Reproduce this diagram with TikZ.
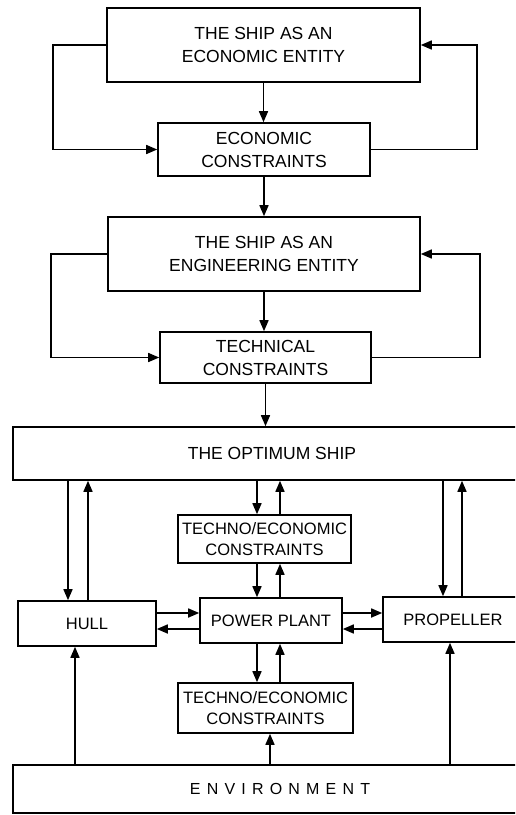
\documentclass[tikz,border=0pt]{standalone}
\usepackage{fontspec}
\setmainfont{Liberation Sans}
\usetikzlibrary{arrows.meta}
\newcommand\lsp{\kern 6.2pt}
\begin{document}
\begin{tikzpicture}[x=1pt,y=-1pt,
  box/.style={draw, line width=1.6pt, inner sep=0pt, align=center, font=\fontsize{17.5}{23}\selectfont},
  sbox/.style={box, font=\fontsize{16.5}{21}\selectfont},
  arr/.style={line width=1.6pt, -{Triangle[length=11pt,width=9pt]}}]
\useasboundingbox (0,0) rectangle (515,815);
\clip (0,0) rectangle (515,815);
% boxes
\node[box, minimum width=313pt, minimum height=74pt] (A) at (263.5,45) {THE SHIP AS AN\\ECONOMIC ENTITY};
\node[box, minimum width=212pt, minimum height=53pt] (B) at (264,149.5) {ECONOMIC\\CONSTRAINTS};
\node[box, minimum width=312pt, minimum height=74pt] (C) at (264,254) {THE SHIP AS AN\\ENGINEERING ENTITY};
\node[box, minimum width=211pt, minimum height=51pt] (D) at (265.5,357.5) {TECHNICAL\\CONSTRAINTS};
\node[box, minimum width=518pt, minimum height=53pt] (E) at (272,453.5) {THE OPTIMUM SHIP};
\node[sbox, minimum width=173pt, minimum height=48pt] (T1) at (264.5,539) {TECHNO/ECONOMIC\\CONSTRAINTS};
\node[sbox, minimum width=138pt, minimum height=45pt] (H) at (87,623.5) {HULL};
\node[sbox, minimum width=142pt, minimum height=45pt] (P) at (271,620.5) {POWER PLANT};
\node[sbox, minimum width=140pt, minimum height=45pt] (R) at (453,619.5) {PROPELLER};
\node[sbox, minimum width=175pt, minimum height=50pt] (T2) at (265.5,708) {TECHNO/ECONOMIC\\CONSTRAINTS};
\node[box, font=\fontsize{16}{18}\selectfont, minimum width=534pt, minimum height=48pt] (V) at (280,789) {E\lsp N\lsp V\lsp I\lsp R\lsp O\lsp N\lsp M\lsp E\lsp N\lsp T};
% helper coordinates
\coordinate (xa) at (68,0);
\coordinate (xb) at (88,0);
\coordinate (xc) at (257,0);
\coordinate (xd) at (280,0);
\coordinate (xe) at (443,0);
\coordinate (xf) at (462,0);
\coordinate (xg) at (75,0);
\coordinate (xh) at (270,0);
\coordinate (xi) at (450,0);
\coordinate (ya) at (0,613);
\coordinate (yb) at (0,629);
% upper chain
\draw[arr] (A.west) -- ++(-53,0) |- (B.west);
\draw[arr] (B.east) -- ++(106,0) |- (A.east);
\draw[arr] (C.west) -- ++(-56,0) |- (D.west);
\draw[arr] (D.east) -- ++(108,0) |- (C.east);
\draw[arr] (A.south) -- (A.south |- B.north);
\draw[arr] (B.south) -- (B.south |- C.north);
\draw[arr] (C.south) -- (C.south |- D.north);
\draw[arr] (D.south) -- (D.south |- E.north);
% optimum ship links
\draw[arr] (E.south -| xa) -- (H.north -| xa);
\draw[arr] (H.north -| xb) -- (E.south -| xb);
\draw[arr] (E.south -| xc) -- (T1.north -| xc);
\draw[arr] (T1.north -| xd) -- (E.south -| xd);
\draw[arr] (E.south -| xe) -- (R.north -| xe);
\draw[arr] (R.north -| xf) -- (E.south -| xf);
\draw[arr] (T1.south -| xc) -- (P.north -| xc);
\draw[arr] (P.north -| xd) -- (T1.south -| xd);
\draw[arr] (P.south -| xc) -- (T2.north -| xc);
\draw[arr] (T2.north -| xd) -- (P.south -| xd);
% environment
\draw[arr] (V.north -| xh) -- (T2.south -| xh);
\draw[arr] (V.north -| xg) -- (H.south -| xg);
\draw[arr] (V.north -| xi) -- (R.south -| xi);
% horizontal links
\draw[arr] (H.east |- ya) -- (P.west |- ya);
\draw[arr] (P.west |- yb) -- (H.east |- yb);
\draw[arr] (P.east |- ya) -- (R.west |- ya);
\draw[arr] (R.west |- yb) -- (P.east |- yb);
\end{tikzpicture}
\end{document}
